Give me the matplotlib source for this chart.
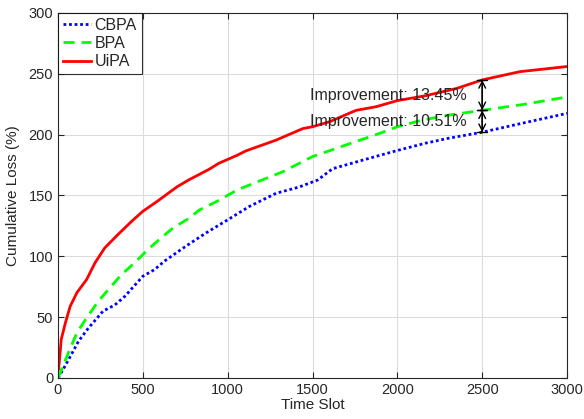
import matplotlib
matplotlib.use("Agg")
import matplotlib.pyplot as plt

plt.rcParams['font.family'] = ['Liberation Sans', 'DejaVu Sans']

# Data
cbpa_x = [0, 30, 62, 120, 179, 266, 335, 393, 500, 568, 627, 750, 870, 1000, 1128, 1285,
          1422, 1530, 1618, 1794, 2000, 2166, 2300, 2500, 2723, 3000]
cbpa_y = [0, 7, 15, 30, 41, 55, 60, 67, 83.6, 89, 96, 108, 119, 130, 141, 151.8,
          157, 162.7, 172, 179, 187, 193, 197, 202, 209, 217.5]

bpa_x = [0, 30, 62, 111, 169, 237, 305, 374, 451, 529, 607, 675, 780, 832, 948, 1055,
         1128, 1324, 1500, 1697, 1894, 2000, 2147, 2300, 2500, 2750, 3000]
bpa_y = [0, 10, 21, 37, 49.5, 63, 74, 85, 94.6, 105.5, 115, 123, 132, 138, 146, 154.5,
         158.6, 169.5, 182, 191.5, 201, 206.5, 212, 216, 220, 225, 231]

uipa_x = [0, 3.5, 12, 19, 43, 72, 111, 169, 218, 276, 354, 432, 500, 588, 627, 700, 773,
          890, 948, 1055, 1108, 1285, 1443, 1500, 1600, 1757, 1876, 2000, 2166, 2350,
          2500, 2723, 3000]
uipa_y = [7, 7, 20, 31.6, 45, 59, 70, 81, 94.6, 107, 118, 128.5, 137, 145.5, 149.5, 157,
          163, 171.5, 176.5, 183, 186.7, 195.5, 205, 206.5, 210.6, 220, 223, 228, 232,
          238, 245, 251.8, 256]

x_ticks = [0, 500, 1000, 1500, 2000, 2500, 3000]
y_ticks = [0, 50, 100, 150, 200, 250, 300]

arrow_x = 2500
arrow_levels = [202, 220, 245]
labels = ["Improvement: 10.51%", "Improvement: 13.45%"]

fig = plt.figure(figsize=(5.84, 4.19), dpi=100)
ax = fig.add_axes([0.0993, 0.0979, 0.8717, 0.8711])

ax.plot(cbpa_x, cbpa_y, color='#0000ff', linestyle=(0, (1, 1)), linewidth=2, label='CBPA')
ax.plot(bpa_x, bpa_y, color='#00ff00', linestyle=(0, (4, 2.5)), linewidth=2, label='BPA')
ax.plot(uipa_x, uipa_y, color='#ff0000', linestyle='-', linewidth=2, label='UiPA')

ax.set_xlim(0, 3000)
ax.set_ylim(0, 300)
ax.set_xticks(x_ticks)
ax.set_yticks(y_ticks)
ax.grid(True, color='#dcdcdc', linewidth=0.8)
ax.set_axisbelow(True)
ax.tick_params(direction='in', top=True, right=True, labelsize=10.5,
               colors='#262626', length=4)
for s in ax.spines.values():
    s.set_color('#262626')
    s.set_linewidth(0.8)

ax.set_xlabel('Time Slot', fontsize=11, color='#262626', labelpad=1)
ax.set_ylabel('Cumulative Loss (%)', fontsize=11, color='#262626', labelpad=6)

# double arrows
for lo, hi in [(arrow_levels[0], arrow_levels[1]), (arrow_levels[1], arrow_levels[2])]:
    ax.annotate('', xy=(arrow_x, hi), xytext=(arrow_x, lo),
                arrowprops=dict(arrowstyle='<->', color='black', lw=1.0,
                                shrinkA=0, shrinkB=0, mutation_scale=12))
    ax.annotate('', xy=(arrow_x, hi), xytext=(arrow_x, lo),
                arrowprops=dict(arrowstyle='|-|,widthA=0.35,widthB=0.35', color='black',
                                lw=1.0, shrinkA=0, shrinkB=0))

ax.text(1485, 232.5, labels[1], fontsize=11.5, color='#262626', va='center', ha='left')
ax.text(1485, 210.5, labels[0], fontsize=11.5, color='#262626', va='center', ha='left')

leg = ax.legend(loc='upper left', fontsize=11.5, frameon=True, fancybox=False,
                borderaxespad=0, handlelength=1.75, handletextpad=0.25,
                borderpad=0.3, labelspacing=0.2, edgecolor='black')
leg.get_frame().set_linewidth(0.8)
for t in leg.get_texts():
    t.set_color('#262626')

fig.savefig('out.png', dpi=100)
